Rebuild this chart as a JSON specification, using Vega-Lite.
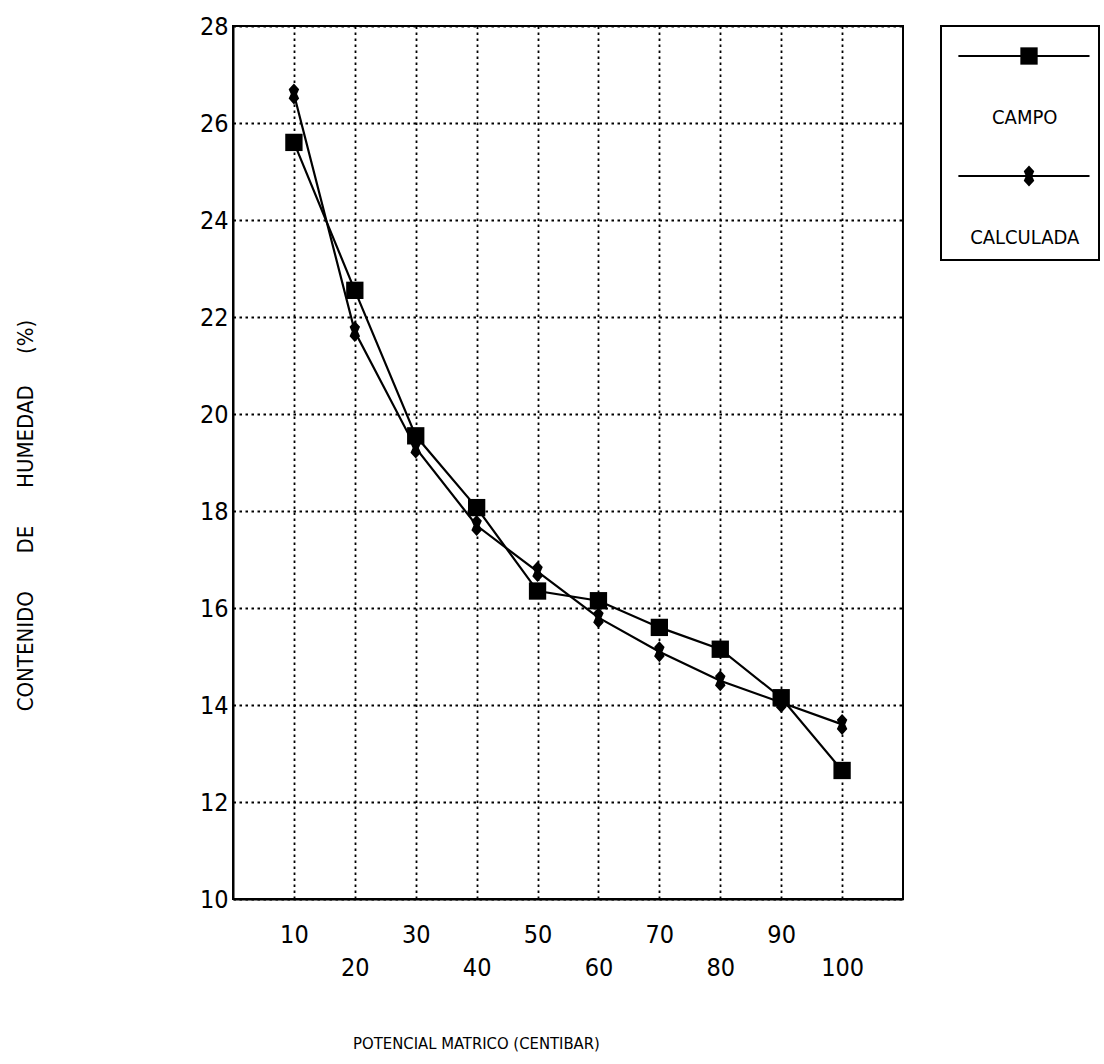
{
  "$schema": "https://vega.github.io/schema/vega-lite/v6.json",
  "padding": {"left": 13, "top": 13, "right": 0, "bottom": 0},
  "background": "white",
  "bounds": "flush",
  "spacing": 38,
  "config": {
    "view": {"stroke": "black", "strokeWidth": 2},
    "font": "Liberation Sans Narrow, DejaVu Sans Condensed, Liberation Sans, sans-serif"
  },
  "datasets": {
    "curvas": [
      {"potencial": 10, "humedad": 25.6, "serie": "CAMPO"},
      {"potencial": 20, "humedad": 22.55, "serie": "CAMPO"},
      {"potencial": 30, "humedad": 19.55, "serie": "CAMPO"},
      {"potencial": 40, "humedad": 18.07, "serie": "CAMPO"},
      {"potencial": 50, "humedad": 16.35, "serie": "CAMPO"},
      {"potencial": 60, "humedad": 16.15, "serie": "CAMPO"},
      {"potencial": 70, "humedad": 15.6, "serie": "CAMPO"},
      {"potencial": 80, "humedad": 15.15, "serie": "CAMPO"},
      {"potencial": 90, "humedad": 14.15, "serie": "CAMPO"},
      {"potencial": 100, "humedad": 12.65, "serie": "CAMPO"},
      {"potencial": 10, "humedad": 26.6, "serie": "CALCULADA"},
      {"potencial": 20, "humedad": 21.7, "serie": "CALCULADA"},
      {"potencial": 30, "humedad": 19.3, "serie": "CALCULADA"},
      {"potencial": 40, "humedad": 17.7, "serie": "CALCULADA"},
      {"potencial": 50, "humedad": 16.75, "serie": "CALCULADA"},
      {"potencial": 60, "humedad": 15.8, "serie": "CALCULADA"},
      {"potencial": 70, "humedad": 15.1, "serie": "CALCULADA"},
      {"potencial": 80, "humedad": 14.5, "serie": "CALCULADA"},
      {"potencial": 90, "humedad": 14.05, "serie": "CALCULADA"},
      {"potencial": 100, "humedad": 13.6, "serie": "CALCULADA"}
    ],
    "leyenda": [
      {"serie": "CAMPO"},
      {"serie": "CALCULADA"}
    ]
  },
  "hconcat": [
    {
      "width": 670,
      "height": 873,
      "data": {"name": "curvas"},
      "encoding": {
        "x": {
          "field": "potencial",
          "type": "quantitative",
          "scale": {"domain": [0, 110], "nice": false, "zero": false},
          "axis": {
            "values": [10, 20, 30, 40, 50, 60, 70, 80, 90, 100],
            "labelExpr": "datum.value % 20 == 0 ? ['', datum.label] : datum.label",
            "labelLineHeight": 33,
            "labelBaseline": "top",
            "labelPadding": 23,
            "labelFontSize": 25,
            "labelColor": "black",
            "labelOverlap": false,
            "labelFlush": false,
            "ticks": false,
            "domainColor": "black",
            "domainWidth": 2,
            "grid": true,
            "gridColor": "black",
            "gridDash": [2.5, 3.5],
            "gridWidth": 1.8,
            "gridOpacity": 1,
            "title": "POTENCIAL MATRICO (CENTIBAR)",
            "titleFontSize": 16.5,
            "titleFontWeight": "normal",
            "titleColor": "black",
            "titleX": 243,
            "titleY": 144,
            "titleBaseline": "middle",
            "titleAlign": "center"
          }
        },
        "y": {
          "field": "humedad",
          "type": "quantitative",
          "scale": {"domain": [10, 28], "nice": false, "zero": false},
          "axis": {
            "values": [10, 12, 14, 16, 18, 20, 22, 24, 26, 28],
            "labelFontSize": 25,
            "labelColor": "black",
            "labelPadding": 5,
            "labelOverlap": false,
            "labelFlush": false,
            "ticks": false,
            "domainColor": "black",
            "domainWidth": 2,
            "grid": true,
            "gridColor": "black",
            "gridDash": [2.5, 3.5],
            "gridWidth": 1.8,
            "gridOpacity": 1,
            "title": "CONTENIDO\u00a0\u00a0\u00a0\u00a0\u00a0\u00a0DE\u00a0\u00a0\u00a0\u00a0\u00a0\u00a0HUMEDAD\u00a0\u00a0\u00a0\u00a0\u00a0(%)",
            "titleFontSize": 22,
            "titleFontWeight": "normal",
            "titleColor": "black",
            "titleX": -208,
            "titleY": 489,
            "titleAngle": 270,
            "titleBaseline": "middle",
            "titleAlign": "center"
          }
        }
      },
      "layer": [
        {
          "mark": {"type": "line", "color": "black", "strokeWidth": 2.2},
          "encoding": {"detail": {"field": "serie", "type": "nominal"}}
        },
        {
          "mark": {"type": "point", "filled": true, "color": "black", "opacity": 1},
          "encoding": {
            "shape": {
              "field": "serie",
              "type": "nominal",
              "scale": {"domain": ["CAMPO", "CALCULADA"], "range": ["square", "M0,-1L0.5,-0.45L0.3,0L0.5,0.45L0,1L-0.5,0.45L-0.3,0L-0.5,-0.45Z"]},
              "legend": null
            },
            "size": {
              "field": "serie",
              "type": "nominal",
              "scale": {"domain": ["CAMPO", "CALCULADA"], "range": [300, 440]},
              "legend": null
            }
          }
        }
      ]
    },
    {
      "width": 158,
      "height": 234,
      "data": {"name": "leyenda"},
      "view": {"stroke": "black", "strokeWidth": 2},
      "encoding": {
        "y": {
          "field": "serie",
          "type": "nominal",
          "scale": {"type": "point", "padding": 0, "domain": ["CAMPO", "CALCULADA"], "range": [30, 150]},
          "axis": null
        }
      },
      "layer": [
        {
          "mark": {"type": "rule", "color": "black", "strokeWidth": 2},
          "encoding": {
            "x": {"datum": 0.11, "type": "quantitative", "scale": {"domain": [0, 1], "nice": false}, "axis": null},
            "x2": {"datum": 0.94}
          }
        },
        {
          "mark": {"type": "point", "filled": true, "color": "black", "opacity": 1},
          "encoding": {
            "x": {"datum": 0.557, "type": "quantitative", "axis": null},
            "shape": {
              "field": "serie",
              "type": "nominal",
              "scale": {"domain": ["CAMPO", "CALCULADA"], "range": ["square", "M0,-1L0.5,-0.45L0.3,0L0.5,0.45L0,1L-0.5,0.45L-0.3,0L-0.5,-0.45Z"]},
              "legend": null
            },
            "size": {
              "field": "serie",
              "type": "nominal",
              "scale": {"domain": ["CAMPO", "CALCULADA"], "range": [300, 440]},
              "legend": null
            }
          }
        },
        {
          "mark": {"type": "text", "dy": 62, "fontSize": 20, "color": "black"},
          "encoding": {
            "x": {"datum": 0.53, "type": "quantitative", "axis": null},
            "text": {"field": "serie", "type": "nominal"}
          }
        }
      ]
    }
  ]
}
